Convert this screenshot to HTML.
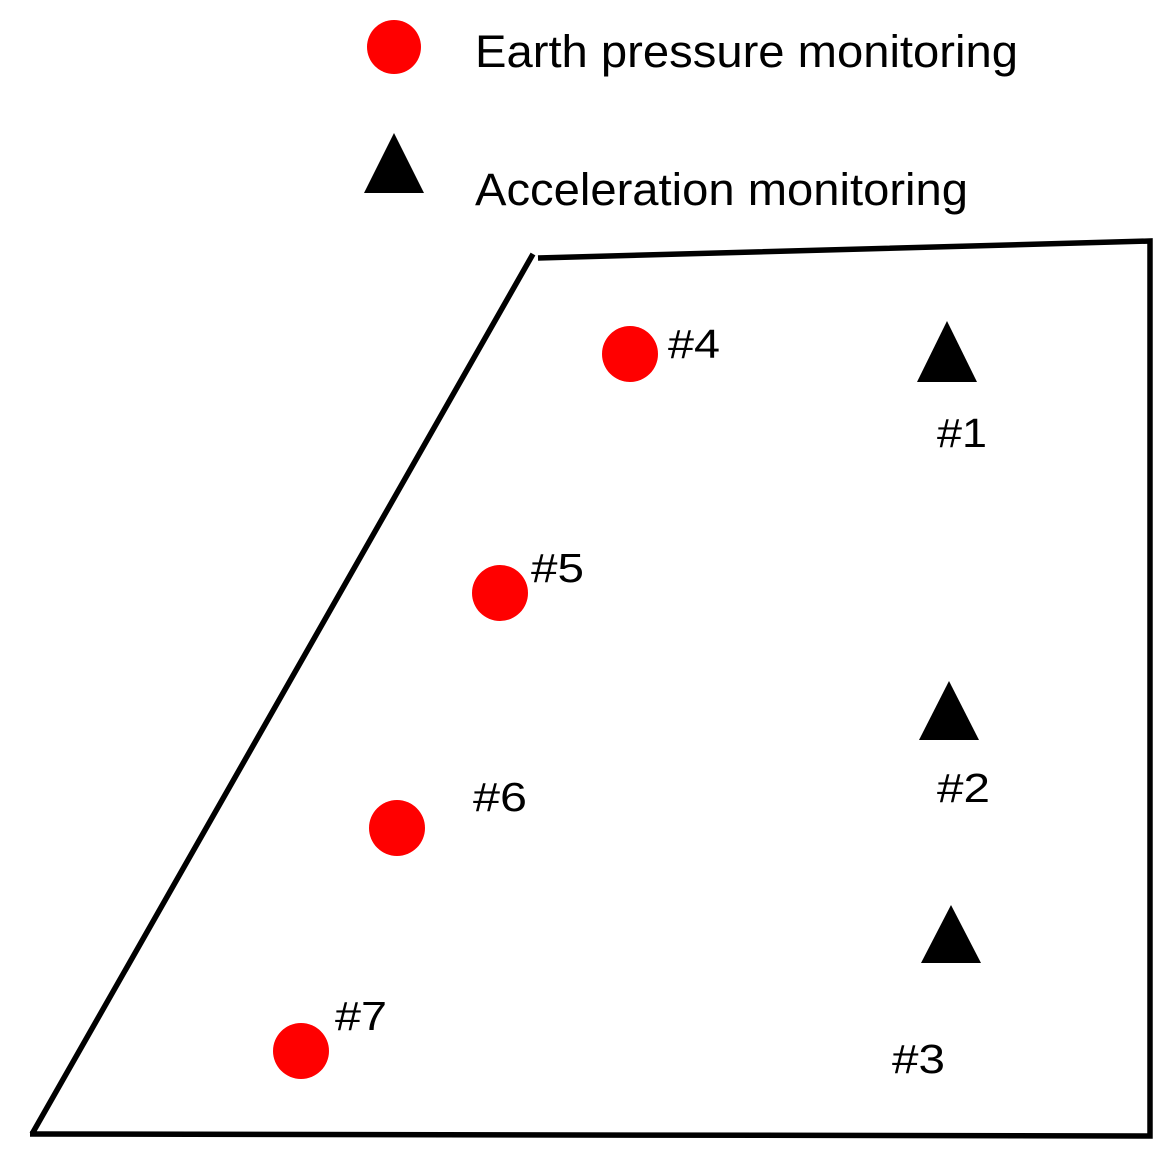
<!DOCTYPE html>
<html><head><style>
html,body{margin:0;padding:0;background:#fff;}
svg{display:block;}
text{font-family:"Liberation Sans",Arial,sans-serif;fill:#000;}
</style></head><body>
<svg width="1176" height="1164" viewBox="0 0 1176 1164" xmlns="http://www.w3.org/2000/svg">
<circle cx="394" cy="47" r="27" fill="#f00"/>
<text x="475" y="67" font-size="45" textLength="543" lengthAdjust="spacingAndGlyphs">Earth pressure monitoring</text>
<polygon points="394,133 424,193 364,193" fill="#000"/>
<text x="475" y="205" font-size="45" textLength="493" lengthAdjust="spacingAndGlyphs">Acceleration monitoring</text>
<path d="M32,1134 L533,254 M538,258 L1150,241 L1150,1136 L30,1134" stroke="#000" stroke-width="5.5" fill="none"/>
<circle cx="630" cy="354" r="28" fill="#f00"/>
<text x="668" y="358" font-size="41" textLength="52" lengthAdjust="spacingAndGlyphs">#4</text>
<circle cx="500" cy="593" r="28" fill="#f00"/>
<text x="531" y="582" font-size="41" textLength="53" lengthAdjust="spacingAndGlyphs">#5</text>
<circle cx="397" cy="828" r="28" fill="#f00"/>
<text x="473" y="811" font-size="41" textLength="54" lengthAdjust="spacingAndGlyphs">#6</text>
<circle cx="301" cy="1051" r="28" fill="#f00"/>
<text x="335" y="1030" font-size="41" textLength="52" lengthAdjust="spacingAndGlyphs">#7</text>
<polygon points="947,321 977,382 917,382" fill="#000"/>
<text x="937" y="447" font-size="41" textLength="50" lengthAdjust="spacingAndGlyphs">#1</text>
<polygon points="949,681 979,740 919,740" fill="#000"/>
<text x="937" y="802" font-size="41" textLength="53" lengthAdjust="spacingAndGlyphs">#2</text>
<polygon points="951,905 981,963 921,963" fill="#000"/>
<text x="892" y="1073" font-size="41" textLength="53" lengthAdjust="spacingAndGlyphs">#3</text>
</svg>
</body></html>
